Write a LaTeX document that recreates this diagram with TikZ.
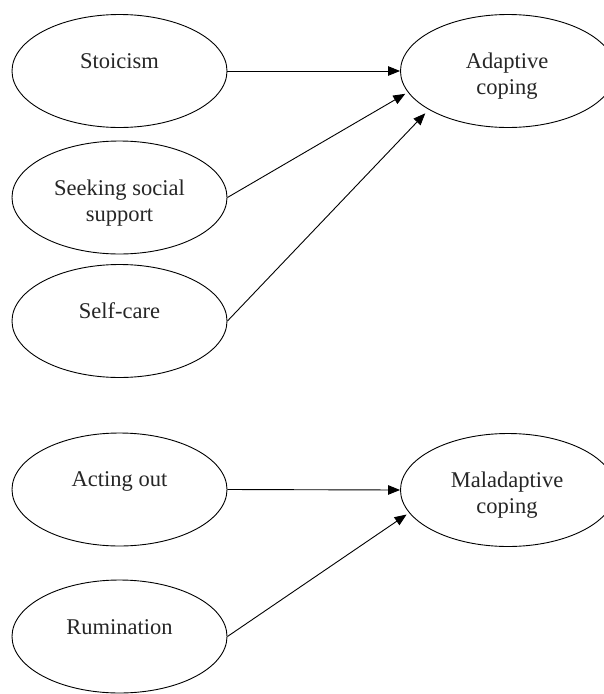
\documentclass[tikz,border=0pt]{standalone}
\usepackage{fontspec}
\setmainfont{Liberation Serif}
\usetikzlibrary{shapes.geometric,arrows.meta}
\tikzset{
  oval/.style={ellipse, draw=black, line width=0.9pt, minimum width=215pt, minimum height=113pt, inner sep=0pt},
  lbl/.style={anchor=base, align=center, inner sep=0pt, text=black!85, font=\fontsize{22.5}{26}\selectfont},
  arr/.style={draw=black, line width=0.9pt, -{Triangle[length=12pt,width=9.5pt]}}
}
\begin{document}
\begin{tikzpicture}[x=1pt,y=-1pt]
\useasboundingbox (0,0) rectangle (604,694);
\clip (0,0) rectangle (604,694);
\fill[white] (0,0) rectangle (604,694);
% ellipses
\node[oval] (stoic) at (119.5,71) {};
\node[oval] (seek) at (119.5,197.5) {};
\node[oval] (self) at (119.5,321) {};
\node[oval] (adapt) at (508,71) {};
\node[oval] (act) at (119.5,489.5) {};
\node[oval] (rum) at (119.5,636.5) {};
\node[oval] (mal) at (508,490) {};
% texts (multi-line nodes are anchored at the baseline of their last line)
\node[lbl] (tstoic) at (119.5,68) {Stoicism};
\node[lbl] (tseek) at (119.5,221) {Seeking social\\support};
\node[lbl] (tself) at (119.5,318) {Self-care};
\node[lbl] (tadapt) at (507,94) {Adaptive\\coping};
\node[lbl] (tact) at (119.5,486) {Acting out};
\node[lbl] (trum) at (119.5,634) {Rumination};
\node[lbl] (tmal) at (507,513) {Maladaptive\\coping};
% connectors
\draw[arr] (stoic.east) -- (adapt.west);
\draw[arr, shorten >=3pt] (seek.east) -- (adapt.192.7);
\draw[arr, shorten >=5pt] (self.east) -- (adapt.206.8);
\draw[arr] (act.east) -- (mal.west);
\draw[arr, shorten >=3pt] (rum.east) -- (mal.193.2);
\end{tikzpicture}
\end{document}
